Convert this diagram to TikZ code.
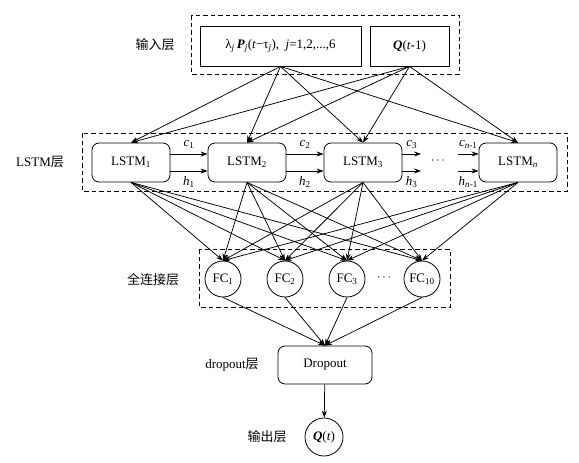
\documentclass[tikz,border=0pt]{standalone}
\usepackage{fontspec}
\setmainfont{Liberation Serif}
\newfontfamily\cjk{Noto Sans CJK SC}
\usetikzlibrary{positioning,arrows.meta}

\newcommand{\lsub}[1]{\textsubscript{#1}}

\begin{document}
\begin{tikzpicture}[x=1pt,y=-1pt,
    every node/.style={font=\fontsize{13}{15}\selectfont},
    layer/.style={draw,line width=0.9pt,dash pattern=on 4.5pt off 3pt},
    inbox/.style={draw,line width=0.8pt,minimum height=40pt,inner sep=0pt},
    cell/.style={draw,rounded corners=7pt,line width=0.8pt,minimum width=78pt,minimum height=39pt,inner sep=0pt},
    fcnode/.style={draw,circle,line width=0.8pt,minimum size=36pt,inner sep=0pt},
    conn/.style={-{Stealth[length=7pt,width=5pt]},line width=0.75pt}]
    \useasboundingbox (0,0) rectangle (579,463);

    % input layer
    \draw[layer] (191,15) rectangle (459,74);
    \node[inbox,minimum width=161pt] (inP) at (280.5,46) {λ\lsub{\textit{j}}\,\textbf{\textit{P}}\lsub{\textit{j}}(\textit{t}−τ\lsub{\textit{j}}), \ \textit{j}=1,2,...,6};
    \node[inbox,minimum width=79pt] (inQ) at (409.5,46) {\textbf{\textit{Q}}(\textit{t}-1)};
    \node (labIn) at (155,45) {\cjk 输入层};

    % LSTM layer
    \draw[layer] (82,133) rectangle (567,191);
    \node[cell] (L1) at (131,162.5) {LSTM\lsub{1}};
    \node[cell] (L2) at (247,162.5) {LSTM\lsub{2}};
    \node[cell] (L3) at (363,162.5) {LSTM\lsub{3}};
    \node[cell] (Ln) at (518,162.5) {LSTM\lsub{\textit{n}}};
    \node (labL) at (40,162) {LSTM{\cjk 层}};
    \node (dotsL) at (438,161) {$\cdots$};
    \coordinate (c3e) at (421,154);
    \coordinate (h3e) at (421,171);
    \coordinate (cns) at (458,154);
    \coordinate (hns) at (458,171);

    \draw[conn] ([yshift=8.5pt]L1.east) -- ([yshift=8.5pt]L2.west) node[midway,above=1.5pt] {\textit{c}\lsub{1}};
    \draw[conn] ([yshift=-8.5pt]L1.east) -- ([yshift=-8.5pt]L2.west) node[midway,below=1.5pt] {\textit{h}\lsub{1}};
    \draw[conn] ([yshift=8.5pt]L2.east) -- ([yshift=8.5pt]L3.west) node[midway,above=1.5pt] {\textit{c}\lsub{2}};
    \draw[conn] ([yshift=-8.5pt]L2.east) -- ([yshift=-8.5pt]L3.west) node[midway,below=1.5pt] {\textit{h}\lsub{2}};
    \draw[conn] ([yshift=8.5pt]L3.east) -- (c3e) node[midway,above=1.5pt] {\textit{c}\lsub{3}}; % to next cell
    \draw[conn] ([yshift=-8.5pt]L3.east) -- (h3e) node[midway,below=1.5pt] {\textit{h}\lsub{3}};
    \draw[conn] (cns) -- ([yshift=8.5pt]Ln.west) node[midway,above=1.5pt] {\textit{c}\lsub{\textit{n}-1}}; % from previous cell
    \draw[conn] (hns) -- ([yshift=-8.5pt]Ln.west) node[midway,below=1.5pt] {\textit{h}\lsub{\textit{n}-1}};

    % fully connected layer
    \draw[layer] (199,249) rectangle (450,307);
    \node[fcnode] (F1) at (223,279) {FC\lsub{1}};
    \node[fcnode] (F2) at (285,279) {FC\lsub{2}};
    \node[fcnode] (F3) at (347,279) {FC\lsub{3}};
    \node[fcnode] (F10) at (422,279) {FC\lsub{10}};
    \node (dotsF) at (384,278) {$\cdots$};
    \node (labF) at (153,280) {\cjk 全连接层};

    % dropout and output
    \node[cell,minimum width=94pt,minimum height=38pt] (drop) at (325,365) {Dropout};
    \node (labD) at (232,365) {dropout{\cjk 层}};
    \node[fcnode,minimum size=38pt] (out) at (324,437) {\textbf{\textit{Q}}(\textit{t})};
    \node (labO) at (267,437) {\cjk 输出层};

    % connections
    \foreach \a in {inP,inQ}
        \foreach \b in {L1,L2,L3,Ln}
            \draw[conn] (\a.south) -- (\b.north);
    \foreach \a in {L1,L2,L3,Ln}
        \foreach \b in {F1,F2,F3,F10}
            \draw[conn] (\a.south) -- (\b.north);
    \foreach \a in {F1,F2,F3,F10}
        \draw[conn] (\a.south) -- (drop.north);
    \draw[conn] (drop) -- (out);
\end{tikzpicture}
\end{document}
